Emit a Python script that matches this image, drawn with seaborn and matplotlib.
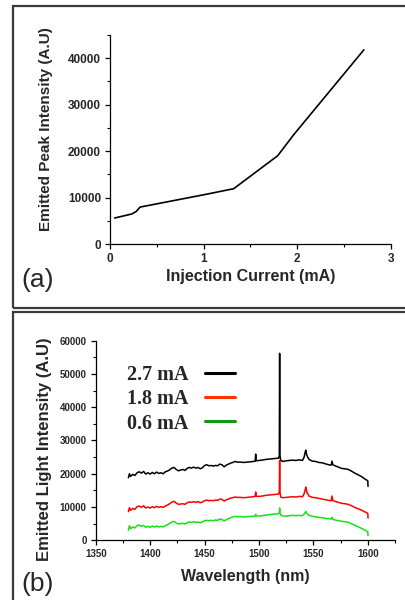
import matplotlib
matplotlib.use("Agg")
import matplotlib.pyplot as plt
import seaborn as sns
import pandas as pd
from matplotlib.patches import Rectangle
from matplotlib.lines import Line2D
from matplotlib.ticker import MultipleLocator

# ---------------- data: panel (a) ----------------
current_mA = [0.05, 0.23, 0.28, 0.32, 0.36, 1.0, 1.32, 1.79, 1.96, 2.71]
peak_intensity = [5600, 6450, 7000, 7950, 8100, 10600, 11900, 19000, 23500, 41800]

# ---------------- data: panel (b) ----------------
wl_lo = [1380, 1381, 1382, 1384, 1386, 1388, 1390, 1392, 1394, 1396, 1398, 1400,
         1402, 1404, 1406, 1408, 1410, 1412, 1414, 1416, 1418, 1420, 1422, 1424,
         1426, 1428, 1430, 1432, 1434, 1436, 1438, 1440, 1442, 1444, 1446, 1448,
         1450, 1452, 1454, 1456, 1458, 1460, 1462, 1464, 1466, 1468, 1470, 1472,
         1474, 1476, 1478, 1480]
wl_hi = [1483, 1486, 1489, 1492, 1495, 1496.5, 1497, 1497.5, 1500, 1503, 1506, 1509,
         1512, 1515, 1518, 1518.7, 1519, 1519.3, 1520, 1522, 1525, 1528, 1531, 1534,
         1537, 1540, 1541.5, 1542.5, 1543, 1544, 1546, 1549, 1552, 1555, 1558, 1561,
         1564, 1566.5, 1567, 1568, 1570, 1573, 1576, 1579, 1582, 1585, 1588, 1591,
         1594, 1597, 1600, 1600.2]

black_lo = [18800, 20000, 19200, 19800, 19500, 20300, 20600, 20200, 20700, 19900,
            20300, 19900, 20400, 20000, 20500, 20100, 20300, 20000, 20600, 20800,
            21200, 21700, 21900, 21300, 20900, 21100, 21300, 21000, 21600, 21900,
            21700, 22000, 21700, 21900, 21500, 21800, 22500, 22700, 22400, 22500,
            22300, 22500, 22400, 22900, 22700, 22100, 22600, 22900, 23200, 23400,
            23700, 23500]
black_hi = [23500, 23400, 23500, 23600, 23700, 23800, 25900, 23900, 24000, 24100,
            24300, 24400, 24500, 24600, 24700, 25500, 56200, 25500, 24000, 23700,
            23900, 24000, 24100, 24000, 24200, 24000, 25000, 26500, 27100, 25500,
            24300, 23800, 23700, 23400, 23300, 23000, 22700, 22600, 23800, 22700,
            22400, 22000, 21600, 21500, 21300, 20800, 20200, 19700, 19200, 18500,
            17900, 16200]

red_lo = [8600, 9800, 9000, 9600, 9300, 10100, 10300, 9900, 10400, 9700,
          10000, 9700, 10100, 9800, 10200, 9900, 10100, 9900, 10300, 10600,
          11000, 11500, 11700, 11200, 10800, 10900, 11000, 10800, 11300, 11500,
          11400, 11600, 11400, 11600, 11300, 11500, 11900, 12100, 11900, 12000,
          11900, 12100, 12000, 12400, 12300, 11800, 12200, 12400, 12700, 12800,
          13000, 12900]
red_hi = [12900, 12800, 12900, 13000, 13100, 13200, 14500, 13200, 13200, 13300,
          13500, 13600, 13700, 13800, 13900, 14500, 24000, 14500, 13000, 12800,
          12900, 13000, 13100, 13000, 13200, 13100, 14000, 15200, 16000, 14500,
          13300, 12900, 12800, 12600, 12400, 12200, 12000, 11900, 13300, 11900,
          11700, 11400, 11100, 11000, 10800, 10400, 9900, 9500, 9100, 8600,
          8100, 6700]

green_lo = [3000, 4400, 3500, 4000, 3700, 4400, 4600, 4200, 4500, 3900,
            4200, 3900, 4300, 4000, 4300, 4000, 4200, 4000, 4400, 4700,
            5100, 5500, 5700, 5200, 4900, 5000, 5100, 4900, 5300, 5500,
            5400, 5600, 5400, 5500, 5300, 5500, 5900, 6000, 5900, 6000,
            5900, 6100, 6000, 6400, 6300, 5800, 6200, 6500, 6800, 7000,
            7200, 7100]
green_hi = [7100, 7000, 7100, 7200, 7200, 7300, 7800, 7300, 7300, 7400,
            7600, 7700, 7800, 7900, 8000, 8300, 9700, 8300, 7600, 7300,
            7300, 7400, 7500, 7400, 7500, 7400, 7900, 8400, 8700, 8000,
            7500, 7200, 7100, 6900, 6800, 6600, 6500, 6400, 6900, 6300,
            6100, 5900, 5700, 5600, 5400, 5000, 4500, 4100, 3600, 3100,
            2600, 1400]

series_labels = ["2.7 mA", "1.8 mA", "0.6 mA"]
line_colors = ["#000000", "#ff0000", "#18e018"]
legend_colors = ["#000000", "#ff3300", "#109a10"]

# ---------------- style ----------------
sns.set_style("ticks")
plt.rcParams["font.family"] = ["Liberation Sans", "DejaVu Sans"]
plt.rcParams["font.weight"] = "bold"

fig = plt.figure(figsize=(4.06, 6.0), dpi=100)

W, H = 406.0, 600.0
def fx(px):
    return px / W
def fy(py):
    return 1 - py / H

# panel borders
fig.patches.append(Rectangle((fx(13.5), fy(308)), 1.2, fy(6) - fy(308),
                             transform=fig.transFigure, fill=False,
                             edgecolor="#3a3a3a", lw=1.6, zorder=0))
fig.patches.append(Rectangle((fx(13.5), -0.2), 1.2, fy(312) + 0.2,
                             transform=fig.transFigure, fill=False,
                             edgecolor="#3a3a3a", lw=1.6, zorder=0))

# ---------------- panel (a) ----------------
axa = fig.add_axes([fx(110), fy(244), fx(391) - fx(110), fy(35) - fy(244)])
df_a = pd.DataFrame({"current": current_mA, "intensity": peak_intensity})
sns.lineplot(data=df_a, x="current", y="intensity", ax=axa, color="black",
             lw=1.2, estimator=None, sort=False)
axa.set_xlim(0, 3)
axa.set_ylim(0, 45000)
axa.xaxis.set_major_locator(MultipleLocator(1))
axa.xaxis.set_minor_locator(MultipleLocator(0.5))
axa.yaxis.set_major_locator(MultipleLocator(10000))
axa.yaxis.set_minor_locator(MultipleLocator(5000))
axa.set_yticks([0, 10000, 20000, 30000, 40000])
axa.set_xlabel("Injection Current (mA)", fontsize=11.5, fontweight="bold", labelpad=3)
axa.set_ylabel("Emitted Peak Intensity (A.U)", fontsize=11, fontweight="bold")
axa.yaxis.set_label_coords((53 - 110) / 281.0, (244 - 129) / 209.0)

# ---------------- panel (b) ----------------
axb = fig.add_axes([fx(95.7), fy(540.3), fx(395) - fx(95.7), fy(340.7) - fy(540.3)])
rows = []
for lab, lo, hi in zip(series_labels, [black_lo, red_lo, green_lo], [black_hi, red_hi, green_hi]):
    for w, v in zip(wl_lo + wl_hi, lo + hi):
        rows.append({"wavelength": w, "intensity": v, "current": lab})
df_b = pd.DataFrame(rows)
sns.lineplot(data=df_b, x="wavelength", y="intensity", hue="current",
             hue_order=series_labels, palette=line_colors, lw=1.1,
             estimator=None, ax=axb, legend=False)
axb.set_xlim(1350, 1625)
axb.set_ylim(0, 60000)
axb.xaxis.set_major_locator(MultipleLocator(50))
axb.xaxis.set_minor_locator(MultipleLocator(25))
axb.set_xticks([1350, 1400, 1450, 1500, 1550, 1600])
axb.yaxis.set_major_locator(MultipleLocator(10000))
axb.yaxis.set_minor_locator(MultipleLocator(5000))
axb.set_xlabel("Wavelength (nm)", fontsize=11.5, fontweight="bold", labelpad=7)
axb.set_ylabel("Emitted Light Intensity (A.U)", fontsize=12, fontweight="bold")
axb.yaxis.set_label_coords((52 - 95.7) / 299.3, (540.3 - 449.5) / 199.6)

handles = [Line2D([], [], color=c, lw=2.2) for c in legend_colors]
leg = axb.legend(handles, series_labels, loc="upper left",
                 bbox_to_anchor=(0.105, 0.88), frameon=False, markerfirst=False,
                 handlelength=1.5, handletextpad=0.8, labelspacing=0.22,
                 borderpad=0, borderaxespad=0,
                 prop={"family": "Liberation Serif", "weight": "bold", "size": 14.5})

# ---------------- common axis styling ----------------
for ax, tfs in ((axa, 8.5), (axb, 7)):
    sns.despine(ax=ax)
    for s in ("left", "bottom"):
        ax.spines[s].set_linewidth(0.9)
        ax.spines[s].set_color("black")
    ax.tick_params(which="major", direction="out", length=3.5, width=0.9,
                   color="black", labelsize=tfs, pad=3)
    ax.tick_params(which="minor", direction="out", length=2, width=0.8, color="black")
    for t in ax.get_xticklabels() + ax.get_yticklabels():
        t.set_fontweight("bold")
    ax.set_facecolor("white")

fig.text(fx(21), fy(280), "(a)", fontsize=19, fontweight="normal",
         ha="left", va="center")
fig.text(fx(21), fy(584), "(b)", fontsize=19, fontweight="normal",
         ha="left", va="center")

fig.savefig("out.png", dpi=100, facecolor="white")
